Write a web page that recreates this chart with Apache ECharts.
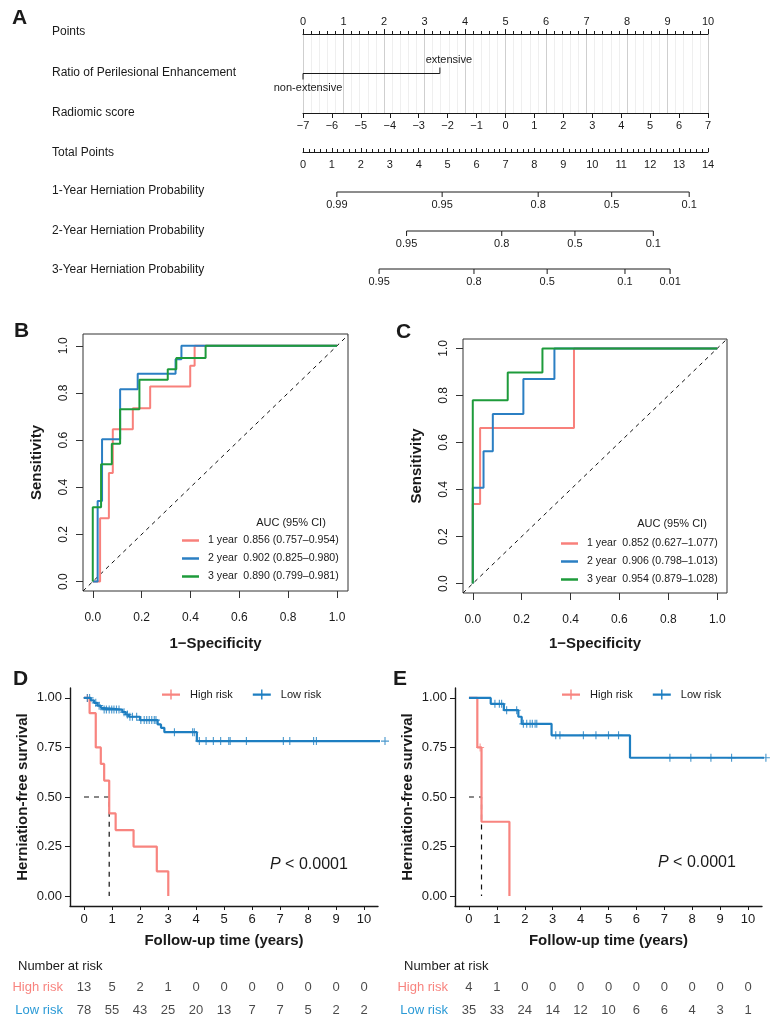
<!DOCTYPE html>
<html>
<head>
<meta charset="utf-8">
<title>Nomogram / ROC / Kaplan-Meier</title>
<script src="https://cdn.jsdelivr.net/npm/echarts@6.0.0/dist/echarts.min.js"></script>
<style>
html,body{margin:0;padding:0;background:#fff;}
#main{width:775px;height:1029px;}
</style>
</head>
<body>
<div id="main"></div>
<script>
// ---------- data ----------
var rowLabels = ['Points', 'Ratio of Perilesional Enhancement', 'Radiomic score', 'Total Points',
  '1-Year Herniation Probability', '2-Year Herniation Probability', '3-Year Herniation Probability'];
var ratioCats = ['non-extensive', 'extensive'];
var ratioPoints = [0, 3.38];
// probability scales, positions in total points
var prob1Labels = ['0.99', '0.95', '0.8', '0.5', '0.1'];
var prob1Pos = [1.17, 4.81, 8.13, 10.67, 13.35];
var prob2Labels = ['0.95', '0.8', '0.5', '0.1'];
var prob2Pos = [3.58, 6.87, 9.40, 12.11];
var prob3Labels = ['0.95', '0.8', '0.5', '0.1', '0.01'];
var prob3Pos = [2.63, 5.91, 8.44, 11.13, 12.69];

// ROC corner points [1-specificity, sensitivity]
var rocB1 = [[0,0],[0.030,0.269],[0.066,0.460],[0.082,0.646],[0.164,0.735],[0.235,0.827],[0.399,0.915],[0.417,1],[1,1]];
var rocB2 = [[0,0],[0.020,0.342],[0.038,0.604],[0.112,0.816],[0.184,0.881],[0.339,0.943],[0.363,1],[1,1]];
var rocB3 = [[0,0],[0,0.315],[0.034,0.498],[0.078,0.584],[0.112,0.731],[0.191,0.856],[0.307,0.901],[0.342,0.948],[0.462,1],[1,1]];
var rocC1 = [[0,0],[0,0.338],[0.030,0.662],[0.414,1],[1,1]];
var rocC2 = [[0,0],[0,0.407],[0.044,0.563],[0.082,0.721],[0.207,0.870],[0.334,1],[1,1]];
var rocC3 = [[0,0],[0,0.780],[0.143,0.898],[0.285,1],[1,1]];
var aucB = ['1 year  0.856 (0.757\u20130.954)', '2 year  0.902 (0.825\u20130.980)', '3 year  0.890 (0.799\u20130.981)'];
var aucC = ['1 year  0.852 (0.627\u20131.077)', '2 year  0.906 (0.798\u20131.013)', '3 year  0.954 (0.879\u20131.028)'];
var rocTicks = [0, 0.2, 0.4, 0.6, 0.8, 1];

// Kaplan-Meier steps [years, survival]
var kmD_high = [[0,1],[0.20,0.923],[0.42,0.75],[0.60,0.667],[0.72,0.583],[0.90,0.417],[1.13,0.333],[1.77,0.25],[2.60,0.125],[3.01,0]];
var kmD_low = [[0,1],[0.24,0.988],[0.36,0.975],[0.48,0.961],[0.60,0.950],[0.66,0.941],[1.37,0.928],[1.49,0.916],[1.61,0.905],[2.00,0.888],[2.63,0.866],[2.75,0.849],[2.87,0.827],[4.03,0.782],[10.86,0.782]];
var censD_high = [[0.12,1]];
var censD_low = [[0.12,1],[0.20,1],[0.42,0.975],[0.54,0.961],[0.72,0.941],[0.80,0.941],[0.90,0.941],[0.99,0.941],[1.07,0.941],[1.16,0.941],[1.25,0.941],
  [1.43,0.928],[1.55,0.916],[1.64,0.905],[1.73,0.905],[1.88,0.905],[2.03,0.888],[2.15,0.888],[2.24,0.888],[2.33,0.888],[2.42,0.888],[2.51,0.888],[2.57,0.888],
  [3.23,0.827],[3.88,0.827],[3.94,0.827],[4.12,0.782],[4.36,0.782],[4.62,0.782],[4.88,0.782],[5.17,0.782],[5.22,0.782],[5.80,0.782],[7.12,0.782],[7.35,0.782],[8.20,0.782],[8.30,0.782],[10.75,0.782]];
var medianD = [[0,0.5],[0.90,0.5],[0.90,0]];

var kmE_high = [[0,1],[0.30,0.75],[0.45,0.375],[1.45,0]];
var kmE_low = [[0,1],[0.78,0.970],[1.25,0.938],[1.77,0.905],[1.89,0.869],[2.96,0.811],[5.77,0.698],[10.70,0.698]];
var censE_high = [[0.40,0.75]];
var censE_low = [[0.93,0.970],[1.09,0.970],[1.17,0.970],[1.35,0.938],[1.71,0.938],[1.95,0.869],[2.07,0.869],[2.19,0.869],[2.27,0.869],[2.37,0.869],[2.43,0.869],
  [3.11,0.811],[3.26,0.811],[4.10,0.811],[4.55,0.811],[5.00,0.811],[5.36,0.811],[7.20,0.698],[7.95,0.698],[8.67,0.698],[9.41,0.698],[10.64,0.698]];
var medianE = [[0,0.5],[0.45,0.5],[0.45,0]];

var kmYears = [0,1,2,3,4,5,6,7,8,9,10];
var kmTicks = [0, 0.25, 0.5, 0.75, 1];
var riskGroups = ['Low risk', 'High risk'];
var riskD_high = [13,5,2,1,0,0,0,0,0,0,0];
var riskD_low = [78,55,43,25,20,13,7,7,5,2,2];
var riskE_high = [4,1,0,0,0,0,0,0,0,0,0];
var riskE_low = [35,33,24,14,12,10,6,6,4,3,1];

// ---------- style ----------
var FONT = '"Liberation Sans", Arial, Helvetica, sans-serif';
var INK = '#1a1a1a';
var ROC_RED = '#F8807B', ROC_BLUE = '#2B7FC3', ROC_GREEN = '#1E9B3B';
var KM_RED = '#F8847F', KM_BLUE = '#1D7EC1', TAB_BLUE = '#2B9AD6';
var PLUS = 'path://M4.3,0h1.4v10h-1.4z M0,4.3h10v1.4h-10z';
var LEG_KM = 'path://M0,4h18v2.2h-18z M8.3,0h1.4v10h-1.4z';

// panels from grid 5 on have one xAxis and one yAxis each; the nomogram grid 0 has two xAxes,
// so the xAxis index of those panels is one higher than the grid index
function xi(g) { return g + 1; }

function txt(x, y, s, size, extra) {
  var st = {text: s, fontSize: size, fontFamily: FONT, fill: INK, align: 'left', verticalAlign: 'middle'};
  for (var k in extra) st[k] = extra[k];
  return {type: 'text', x: x, y: y, silent: true, style: st};
}
function hiddenY(g) {
  return {gridIndex: g, type: 'value', min: 0, max: 1, show: false};
}
function hiddenX(g, mn, mx) {
  return {gridIndex: g, type: 'value', min: mn, max: mx, show: false};
}
function minus(v) { return v < 0 ? '\u2212' + Math.abs(v) : String(v); }

// nomogram probability scale drawn as a line with tick symbols (grid 2..4)
function probSeries(g, pos, labels) {
  return {
    type: 'line', xAxisIndex: xi(g), yAxisIndex: g, silent: true, clip: false,
    data: pos.map(function (p, k) { return {value: [p, 0], label: {formatter: labels[k]}}; }),
    symbol: 'rect', symbolSize: [1, 5], symbolOffset: [0, 2.5], showAllSymbol: true,
    lineStyle: {color: INK, width: 1}, itemStyle: {color: INK},
    label: {show: true, position: 'bottom', distance: 2, fontSize: 11, fontFamily: FONT, color: INK}
  };
}

// ROC panel axes
function rocX(g, mn, mx, gap) {
  return {
    gridIndex: g, type: 'value', min: mn, max: mx,
    axisLine: {show: false, onZero: false},
    axisTick: {show: true, customValues: rocTicks, length: 7, lineStyle: {color: '#333'}},
    axisLabel: {customValues: rocTicks, formatter: function (v) { return v.toFixed(1); }, margin: 21, fontSize: 12, fontFamily: FONT, color: INK},
    splitLine: {show: false},
    name: '1\u2212Specificity', nameLocation: 'middle', nameGap: gap,
    nameTextStyle: {fontWeight: 'bold', fontSize: 15, fontFamily: FONT, color: INK}
  };
}
function rocY(g, mn, mx) {
  return {
    gridIndex: g, type: 'value', min: mn, max: mx,
    axisLine: {show: false, onZero: false},
    axisTick: {show: true, customValues: rocTicks, length: 7, lineStyle: {color: '#333'}},
    axisLabel: {customValues: rocTicks, formatter: function (v) { return v.toFixed(1); }, rotate: 90, margin: 13, fontSize: 12, fontFamily: FONT, color: INK},
    splitLine: {show: false},
    name: 'Sensitivity', nameLocation: 'middle', nameGap: 39,
    nameTextStyle: {fontWeight: 'bold', fontSize: 15, fontFamily: FONT, color: INK}
  };
}
function rocLine(g, name, data, color) {
  return {type: 'line', name: name, xAxisIndex: xi(g), yAxisIndex: g, data: data, step: 'end', symbol: 'none', silent: true,
    lineStyle: {color: color, width: 2}, itemStyle: {color: color}};
}
function diag(g, lo, hi) {
  return {type: 'line', xAxisIndex: xi(g), yAxisIndex: g, data: [[lo, lo], [hi, hi]], symbol: 'none', silent: true,
    lineStyle: {color: '#111', width: 1, type: [4, 4]}};
}
function rocLegend(names, left, top) {
  return {data: names, orient: 'vertical', left: left, top: top, padding: 0, itemWidth: 17, itemHeight: 2.5, itemGap: 5, icon: 'rect',
    selectedMode: false, textStyle: {fontSize: 10.6, lineHeight: 13, fontFamily: FONT, color: INK, padding: [0, 0, 0, 4]}};
}

// Kaplan-Meier axes
function kmX(g) {
  return {
    gridIndex: g, type: 'value', min: -0.5, max: 10.5,
    axisLine: {show: true, onZero: false, lineStyle: {color: INK, width: 1.4}},
    axisTick: {show: true, customValues: kmYears, length: 4, lineStyle: {color: INK}},
    axisLabel: {customValues: kmYears, margin: 7, fontSize: 13, fontFamily: FONT, color: INK},
    splitLine: {show: false},
    name: 'Follow-up time (years)', nameLocation: 'middle', nameGap: 27,
    nameTextStyle: {fontWeight: 'bold', fontSize: 15, fontFamily: FONT, color: INK}
  };
}
function kmY(g) {
  return {
    gridIndex: g, type: 'value', min: -0.05, max: 1.05,
    axisLine: {show: true, onZero: false, lineStyle: {color: INK, width: 1.4}},
    axisTick: {show: true, customValues: kmTicks, length: 5, lineStyle: {color: INK}},
    axisLabel: {customValues: kmTicks, formatter: function (v) { return v.toFixed(2); }, margin: 8, fontSize: 13, fontFamily: FONT, color: INK},
    splitLine: {show: false},
    name: 'Herniation-free survival', nameLocation: 'middle', nameGap: 40,
    nameTextStyle: {fontWeight: 'bold', fontSize: 15, fontFamily: FONT, color: INK}
  };
}
function kmLine(g, name, data, color) {
  return {type: 'line', name: name, xAxisIndex: xi(g), yAxisIndex: g, data: data, step: 'end', symbol: 'none', clip: false, silent: true,
    lineStyle: {color: color, width: 2.2}, itemStyle: {color: color}};
}
function censor(g, data, color) {
  return {type: 'scatter', xAxisIndex: xi(g), yAxisIndex: g, data: data, symbol: PLUS, symbolSize: 8, clip: false, silent: true,
    itemStyle: {color: color}};
}
function median(g, data) {
  return {type: 'line', xAxisIndex: xi(g), yAxisIndex: g, data: data, symbol: 'none', silent: true,
    lineStyle: {color: '#111', width: 1.2, type: [5, 5]}};
}
function kmLegend(left) {
  return {data: ['High risk', 'Low risk'], left: left, top: 689, padding: 0, itemWidth: 18, itemHeight: 10, itemGap: 20, icon: LEG_KM,
    selectedMode: false, textStyle: {fontSize: 11, fontFamily: FONT, color: INK, padding: [0, 0, 0, 5]}};
}

// number-at-risk table
function riskY(g) {
  return {
    gridIndex: g, type: 'category', data: riskGroups,
    axisLine: {show: false}, axisTick: {show: false},
    axisLabel: {margin: 7, fontSize: 13, fontFamily: FONT, color: function (v) { return v === 'High risk' ? KM_RED : TAB_BLUE; }}
  };
}
function riskRow(g, row, counts) {
  return {type: 'scatter', xAxisIndex: xi(g), yAxisIndex: g, silent: true, symbolSize: 1,
    itemStyle: {color: 'transparent'},
    data: counts.map(function (n, i) { return [kmYears[i], row, n]; }),
    label: {show: true, position: 'inside', formatter: function (p) { return p.value[2]; }, fontSize: 13, fontFamily: FONT, color: INK}};
}

var option = {
  animation: false,
  backgroundColor: '#fff',
  grid: [
    {left: 303, top: 34, width: 405, height: 79},     // 0 points / radiomic
    {left: 303, top: 122, width: 405, height: 30},    // 1 total points
    {left: 303, top: 182, width: 405, height: 10},    // 2
    {left: 303, top: 221, width: 405, height: 10},    // 3
    {left: 303, top: 259, width: 405, height: 10},    // 4
    {left: 83, top: 334, width: 265, height: 257, show: true, borderColor: '#333', borderWidth: 1},   // 5 ROC B
    {left: 463, top: 339, width: 264, height: 254, show: true, borderColor: '#333', borderWidth: 1},  // 6 ROC C
    {left: 70, top: 688, width: 308, height: 218},    // 7 KM D
    {left: 455, top: 688, width: 307, height: 218},   // 8 KM E
    {left: 70, top: 976, width: 308, height: 46},     // 9 risk D
    {left: 455, top: 976, width: 307, height: 46}     // 10 risk E
  ],
  xAxis: [
    {gridIndex: 0, type: 'value', position: 'top', min: 0, max: 10, interval: 1,
      axisLine: {onZero: false, lineStyle: {color: INK, width: 1}},
      axisTick: {length: 5, lineStyle: {color: INK}},
      minorTick: {show: true, splitNumber: 5, length: 3, lineStyle: {color: INK}},
      axisLabel: {margin: 7, fontSize: 11, fontFamily: FONT, color: INK},
      splitLine: {show: true, lineStyle: {color: '#cfcfcf', width: 1}},
      minorSplitLine: {show: true, lineStyle: {color: '#efefef', width: 1}}},
    {gridIndex: 0, type: 'value', position: 'bottom', min: -7, max: 7, interval: 1,
      axisLine: {onZero: false, lineStyle: {color: INK, width: 1}},
      axisTick: {length: 5, lineStyle: {color: INK}},
      axisLabel: {margin: 7, fontSize: 11, fontFamily: FONT, color: INK, formatter: minus},
      splitLine: {show: false}},
    {gridIndex: 1, type: 'value', position: 'bottom', min: 0, max: 14, interval: 1,
      axisLine: {onZero: false, lineStyle: {color: INK, width: 1}},
      axisTick: {inside: true, length: 4, lineStyle: {color: INK}},
      minorTick: {show: true, splitNumber: 5, length: 3, lineStyle: {color: INK}},
      axisLabel: {margin: 7, fontSize: 11, fontFamily: FONT, color: INK},
      splitLine: {show: false}},
    hiddenX(2, 0, 14), hiddenX(3, 0, 14), hiddenX(4, 0, 14),
    rocX(5, -0.04, 1.045, 45), rocX(6, -0.04, 1.04, 43),
    kmX(7), kmX(8),
    hiddenX(9, -0.5, 10.5), hiddenX(10, -0.5, 10.5)
  ],
  yAxis: [
    hiddenY(0), hiddenY(1), hiddenY(2), hiddenY(3), hiddenY(4),
    rocY(5, -0.04, 1.05), rocY(6, -0.04, 1.04),
    kmY(7), kmY(8),
    riskY(9), riskY(10)
  ],
  legend: [
    rocLegend(aucB, 182, 534),
    rocLegend(aucC, 561, 537),
    kmLegend(162),
    kmLegend(562)
  ],
  series: [
    // ratio of perilesional enhancement
    {type: 'line', xAxisIndex: 0, yAxisIndex: 0, silent: true, clip: false, symbol: 'rect', symbolSize: [1, 6],
      lineStyle: {color: INK, width: 1}, itemStyle: {color: INK},
      label: {show: true, fontSize: 11, fontFamily: FONT, color: INK},
      data: [
        {value: [ratioPoints[0], 0.5], symbolOffset: [0, 3], label: {formatter: ratioCats[0], position: 'bottom', distance: 3, offset: [5, 0]}},
        {value: [ratioPoints[1], 0.5], symbolOffset: [0, -3], label: {formatter: ratioCats[1], position: 'top', distance: 2, offset: [9, 0]}}
      ]},
    probSeries(2, prob1Pos, prob1Labels),
    probSeries(3, prob2Pos, prob2Labels),
    probSeries(4, prob3Pos, prob3Labels),
    // ROC B
    diag(5, -0.04, 1.045),
    rocLine(5, aucB[0], rocB1, ROC_RED), rocLine(5, aucB[1], rocB2, ROC_BLUE), rocLine(5, aucB[2], rocB3, ROC_GREEN),
    // ROC C
    diag(6, -0.04, 1.04),
    rocLine(6, aucC[0], rocC1, ROC_RED), rocLine(6, aucC[1], rocC2, ROC_BLUE), rocLine(6, aucC[2], rocC3, ROC_GREEN),
    // KM D
    median(7, medianD),
    kmLine(7, 'High risk', kmD_high, KM_RED), kmLine(7, 'Low risk', kmD_low, KM_BLUE),
    censor(7, censD_high, KM_RED), censor(7, censD_low, KM_BLUE),
    // KM E
    median(8, medianE),
    kmLine(8, 'High risk', kmE_high, KM_RED), kmLine(8, 'Low risk', kmE_low, KM_BLUE),
    censor(8, censE_high, KM_RED), censor(8, censE_low, KM_BLUE),
    // number at risk
    riskRow(9, 1, riskD_high), riskRow(9, 0, riskD_low),
    riskRow(10, 1, riskE_high), riskRow(10, 0, riskE_low)
  ],
  graphic: [
    txt(12, 18, 'A', 21, {fontWeight: 'bold'}),
    txt(14, 331, 'B', 21, {fontWeight: 'bold'}),
    txt(396, 332, 'C', 21, {fontWeight: 'bold'}),
    txt(13, 679, 'D', 21, {fontWeight: 'bold'}),
    txt(393, 679, 'E', 21, {fontWeight: 'bold'}),
    txt(52, 32, rowLabels[0], 12),
    txt(52, 73, rowLabels[1], 12),
    txt(52, 113, rowLabels[2], 12),
    txt(52, 153, rowLabels[3], 12),
    txt(52, 191, rowLabels[4], 12),
    txt(52, 231, rowLabels[5], 12),
    txt(52, 270, rowLabels[6], 12),
    txt(291, 523, 'AUC (95% CI)', 11, {align: 'center'}),
    txt(672, 524, 'AUC (95% CI)', 11, {align: 'center'}),
    txt(270, 865, '{i|P} < 0.0001', 16, {rich: {i: {fontStyle: 'italic', fontSize: 16, fontFamily: FONT, fill: INK}}}),
    txt(658, 863, '{i|P} < 0.0001', 16, {rich: {i: {fontStyle: 'italic', fontSize: 16, fontFamily: FONT, fill: INK}}}),
    txt(18, 966, 'Number at risk', 13),
    txt(404, 966, 'Number at risk', 13)
  ]
};

var chart = echarts.init(document.getElementById('main'));
chart.setOption(option);
</script>
</body>
</html>
